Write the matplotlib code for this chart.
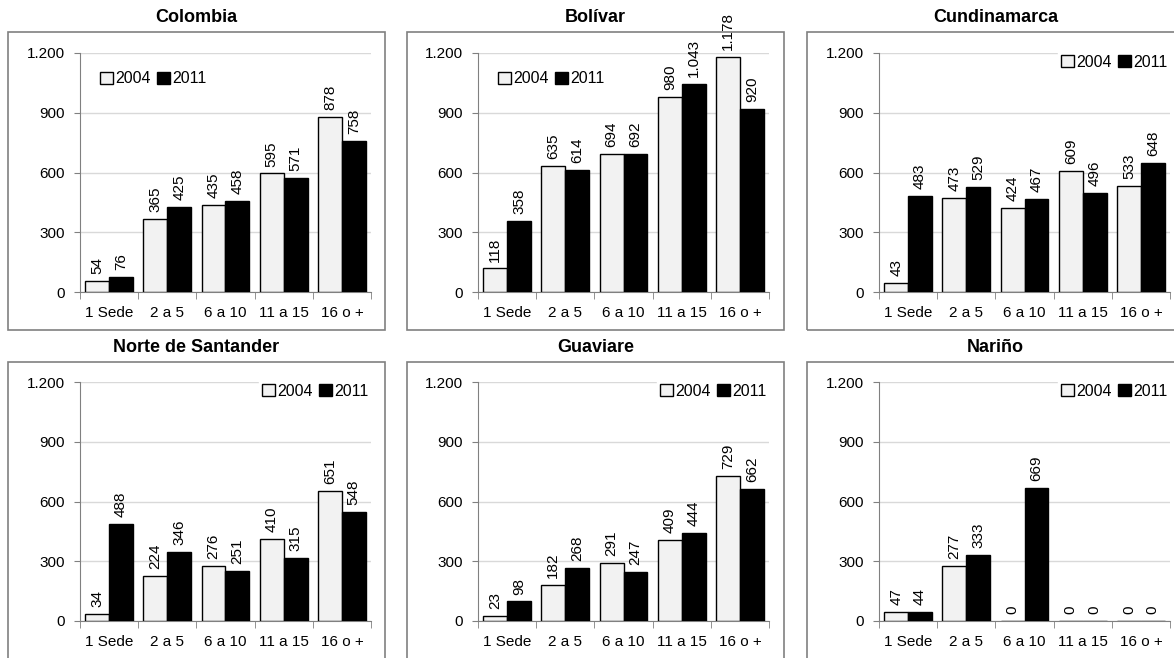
import matplotlib
matplotlib.use("Agg")
import matplotlib.pyplot as plt
from matplotlib.patches import Rectangle
import numpy as np

plt.rcParams['font.family'] = ['Liberation Sans', 'DejaVu Sans']

categories = ["1 Sede", "2 a 5", "6 a 10", "11 a 15", "16 o +"]
years = ["2004", "2011"]

colombia_2004 = [54, 365, 435, 595, 878]
colombia_2011 = [76, 425, 458, 571, 758]
bolivar_2004 = [118, 635, 694, 980, 1178]
bolivar_2011 = [358, 614, 692, 1043, 920]
cundinamarca_2004 = [43, 473, 424, 609, 533]
cundinamarca_2011 = [483, 529, 467, 496, 648]
norte_2004 = [34, 224, 276, 410, 651]
norte_2011 = [488, 346, 251, 315, 548]
guaviare_2004 = [23, 182, 291, 409, 729]
guaviare_2011 = [98, 268, 247, 444, 662]
narino_2004 = [47, 277, 0, 0, 0]
narino_2011 = [44, 333, 669, 0, 0]

panels = [
    ("Colombia", colombia_2004, colombia_2011, "upper left"),
    ("Bolívar", bolivar_2004, bolivar_2011, "upper left"),
    ("Cundinamarca", cundinamarca_2004, cundinamarca_2011, "upper right"),
    ("Norte de Santander", norte_2004, norte_2011, "upper right"),
    ("Guaviare", guaviare_2004, guaviare_2011, "upper right"),
    ("Nariño", narino_2004, narino_2011, "upper right"),
]

W, H = 1174, 658
fig = plt.figure(figsize=(W / 100, H / 100), dpi=100)

ax_left = [80, 478, 879]
frame_left = [8, 407, 807]
frame_w = 377
ax_w = 291
rows = [(53, 292, 32, 18), (382, 621, 362, 348)]  # top px, zero px, frame top, title y


def fmt(v):
    return "{:,}".format(int(v)).replace(",", ".")


x = np.arange(len(categories))
bw = 0.41

for i, (name, v04, v11, legloc) in enumerate(panels):
    r, c = divmod(i, 3)
    top, zero, ftop, ty = rows[r]
    ax = fig.add_axes([ax_left[c] / W, 1 - zero / H, ax_w / W, (zero - top) / H])

    # frame around each chart
    fig.patches.append(Rectangle((frame_left[c] / W, 1 - (ftop + 298) / H), frame_w / W, 298 / H,
                                 transform=fig.transFigure, fill=False, edgecolor="#808080",
                                 linewidth=1.2, zorder=0))
    fig.text((frame_left[c] + frame_w / 2) / W, 1 - ty / H, name, ha="center", va="center",
             fontsize=13, fontweight="bold")

    b1 = ax.bar(x - bw / 2, v04, bw, color="#f2f2f2", edgecolor="black", linewidth=1, label=years[0], zorder=3)
    b2 = ax.bar(x + bw / 2, v11, bw, color="black", edgecolor="black", linewidth=1, label=years[1], zorder=3)

    for bars, vals in [(b1, v04), (b2, v11)]:
        for b, v in zip(bars, vals):
            ax.text(b.get_x() + b.get_width() / 2, v + 35, fmt(v), rotation=90,
                    ha="center", va="bottom", fontsize=11, zorder=4)

    ax.set_ylim(0, 1200)
    ax.set_xlim(-0.5, 4.5)
    ax.set_yticks([0, 300, 600, 900, 1200])
    ax.set_yticklabels([fmt(t) for t in [0, 300, 600, 900, 1200]], fontsize=11)
    ax.set_xticks(x)
    ax.set_xticklabels(categories, fontsize=11)
    ax.tick_params(axis="x", length=0, pad=10)
    ax.set_xticks(np.arange(-0.5, 5, 1), minor=True)
    ax.tick_params(axis="x", which="minor", length=5, color="#808080")
    ax.tick_params(axis="y", length=4, color="#808080", pad=7)
    ax.yaxis.grid(True, color="#d9d9d9", linewidth=1, zorder=0)
    ax.set_axisbelow(True)
    for s in ["top", "right"]:
        ax.spines[s].set_visible(False)
    for s in ["left", "bottom"]:
        ax.spines[s].set_color("#808080")

    if legloc == "upper left":
        leg = ax.legend(loc="upper left", bbox_to_anchor=(0.03, 0.97), ncol=2, frameon=False,
                        fontsize=11.5, handlelength=0.8, handleheight=0.8, handletextpad=0.15,
                        columnspacing=0.4, borderpad=0.2)
    else:
        leg = ax.legend(loc="upper right", bbox_to_anchor=(1.03, 1.04), ncol=2, frameon=True,
                        fontsize=11.5, handlelength=0.8, handleheight=0.8, handletextpad=0.15,
                        columnspacing=0.4, borderpad=0.2, edgecolor="white", framealpha=1,
                        fancybox=False)

fig.savefig("out.png", dpi=100)
